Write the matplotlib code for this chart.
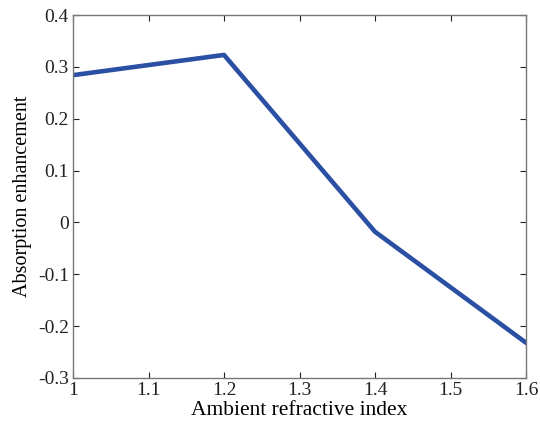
import numpy as np
import matplotlib.pyplot as plt

# Data
refractive_index = [1.0, 1.2, 1.4, 1.6]
enhancement = [0.284, 0.323, -0.018, -0.232]

plt.rcParams['font.family'] = ['Liberation Serif', 'DejaVu Serif']

fig = plt.figure(figsize=(5.4, 4.22), dpi=100)
ax = fig.add_axes([73 / 540, 44 / 422, 453 / 540, 363 / 422])

ax.plot(refractive_index, enhancement, color='#2a4fa3', linewidth=3.3)

ax.set_xlim(1, 1.6)
ax.set_ylim(-0.3, 0.4)
ax.set_xticks(np.arange(1, 1.61, 0.1))
ax.set_xticklabels(['1', '1.1', '1.2', '1.3', '1.4', '1.5', '1.6'])
ax.set_yticks(np.arange(-0.3, 0.41, 0.1))
ax.set_yticklabels(['-0.3', '-0.2', '-0.1', '0', '0.1', '0.2', '0.3', '0.4'])

ax.tick_params(direction='in', top=True, right=True, length=4, width=0.8,
               labelsize=14, colors='#222222', pad=3)
for s in ax.spines.values():
    s.set_color('#777777')
    s.set_linewidth(1)

ax.set_xlabel('Ambient refractive index', fontsize=15.5, labelpad=1)
ax.set_ylabel('Absorption enhancement', fontsize=14.5, labelpad=4)

fig.savefig('out.png', dpi=100)
